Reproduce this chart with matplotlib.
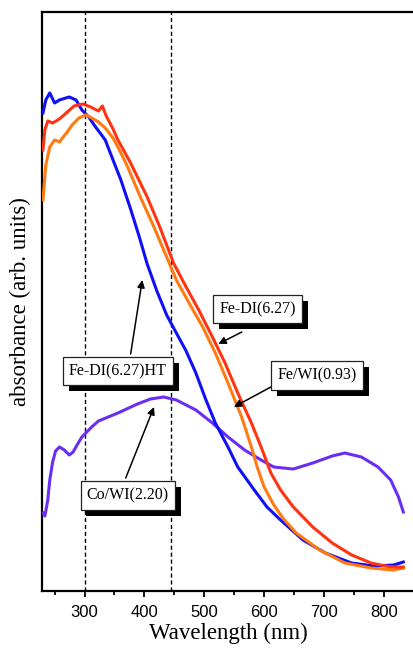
import numpy as np
import matplotlib
matplotlib.use("Agg")
import matplotlib.pyplot as plt
import matplotlib.patheffects as pe

SERIF = "Liberation Serif"
SANS = "Liberation Sans"

# --- spectra (wavelength nm, absorbance arb. units) ---
blue_nm = [230.6, 235.4, 242.0, 250.1, 258.2, 274.5, 285.9, 295.6, 307.0, 318.4, 326.0, 334.6,
           347.6, 360.7, 376.9, 391.5, 404.6, 420.8, 437.1, 453.3, 469.6, 485.9, 502.1, 518.4,
           539.5, 555.8, 583.4, 604.6, 627.3, 664.7, 702.1, 746.0, 783.4, 815.9, 832.2]
blue_a = [4.78, 4.91, 4.98, 4.88, 4.91, 4.94, 4.91, 4.81, 4.74, 4.64, 4.58, 4.51,
          4.31, 4.11, 3.82, 3.54, 3.27, 3.00, 2.76, 2.58, 2.40, 2.18, 1.92, 1.68,
          1.44, 1.24, 1.01, 0.84, 0.71, 0.51, 0.38, 0.28, 0.25, 0.26, 0.29]

red_nm = [230.6, 233.8, 238.7, 246.8, 258.2, 269.6, 282.6, 297.2, 310.2, 323.3, 329.8, 336.3,
          347.6, 355.8, 376.9, 404.6, 425.7, 448.5, 469.6, 490.7, 513.5, 534.6, 555.8, 578.6,
          594.8, 611.1, 627.3, 648.5, 681.0, 713.5, 746.0, 778.5, 811.1, 832.2]
red_a = [4.41, 4.61, 4.70, 4.68, 4.72, 4.78, 4.85, 4.87, 4.84, 4.80, 4.85, 4.75,
         4.62, 4.51, 4.28, 3.94, 3.64, 3.28, 3.04, 2.81, 2.54, 2.28, 1.98, 1.68,
         1.44, 1.18, 1.01, 0.84, 0.64, 0.48, 0.36, 0.28, 0.24, 0.24]

orange_nm = [230.6, 235.4, 242.0, 250.1, 258.2, 263.1, 271.2, 279.3, 290.7, 302.1, 311.9, 323.3,
             334.6, 347.6, 360.0, 372.0, 393.2, 415.9, 437.1, 453.3, 474.5, 497.3, 518.4, 539.5,
             562.3, 578.6, 588.3, 599.8, 616.0, 632.3, 653.4, 692.4, 734.6, 778.5, 815.9, 832.2]
orange_a = [3.91, 4.26, 4.44, 4.51, 4.49, 4.53, 4.59, 4.66, 4.73, 4.76, 4.73, 4.69,
            4.63, 4.53, 4.39, 4.24, 3.94, 3.64, 3.34, 3.11, 2.88, 2.64, 2.38, 2.08,
            1.74, 1.44, 1.24, 1.04, 0.86, 0.72, 0.58, 0.41, 0.28, 0.23, 0.21, 0.23]

purple_nm = [230.6, 233.8, 238.7, 242.0, 246.8, 251.7, 258.2, 266.3, 274.5, 281.0, 287.5, 295.6,
             311.9, 323.3, 355.8, 388.3, 410.0, 432.2, 453.3, 485.9, 513.5, 539.5, 567.2, 594.8,
             616.0, 648.5, 681.0, 713.5, 734.6, 762.3, 789.9, 811.1, 824.1, 832.2]
purple_a = [0.78, 0.75, 0.91, 1.11, 1.29, 1.40, 1.44, 1.41, 1.36, 1.39, 1.46, 1.54,
            1.64, 1.70, 1.78, 1.87, 1.92, 1.94, 1.91, 1.81, 1.68, 1.54, 1.41, 1.31,
            1.24, 1.22, 1.28, 1.35, 1.38, 1.34, 1.24, 1.11, 0.94, 0.79]

marker_lines = [300, 445]
xticks = [300, 400, 500, 600, 700, 800]

# label text, box centre, arrow tail, arrow tip
labels = ["Fe-DI(6.27)", "Fe-DI(6.27)HT", "Fe/WI(0.93)", "Co/WI(2.20)"]
label_xy = [(589.0, 2.82), (355.8, 2.20), (688.0, 2.155), (372.0, 0.955)]
arrow_from = [(562.6, 2.59), (377.0, 2.37), (611.1, 2.04), (368.8, 1.13)]
arrow_to = [(523.3, 2.47), (396.4, 3.11), (549.3, 1.84), (416.0, 1.84)]

fig = plt.figure(figsize=(4.14, 6.54), dpi=100)
ax = fig.add_axes([0.1014, 0.0963, 0.8986, 0.8854])

ax.plot(purple_nm, purple_a, color="#6A2EF2", lw=2.2, zorder=3)
ax.plot(blue_nm, blue_a, color="#1010F5", lw=2.2, zorder=4)
ax.plot(orange_nm, orange_a, color="#FF7A12", lw=2.2, zorder=4)
ax.plot(red_nm, red_a, color="#FF3410", lw=2.2, zorder=5)

for xv in marker_lines:
    ax.axvline(xv, ymin=0, ymax=1.005, color="k", lw=1.0, ls=(0, (3, 2)), clip_on=False, zorder=2)

for txt, xy, p0, p1 in zip(labels, label_xy, arrow_from, arrow_to):
    ax.annotate("", xy=p1, xytext=p0,
                arrowprops=dict(arrowstyle="-|>", color="k", lw=1.1, mutation_scale=11,
                                shrinkA=0, shrinkB=0), zorder=6)
    t = ax.text(*xy, txt, ha="center", va="center", fontsize=11.5, family=SERIF, zorder=7,
                bbox=dict(boxstyle="square,pad=0.38", fc="white", ec="#222222", lw=0.9))
    t.get_bbox_patch().set_path_effects([pe.withSimplePatchShadow(offset=(4.3, -4.3),
                                         shadow_rgbFace="k", alpha=1.0)])

ax.set_xlim(229, 833.6)
ax.set_ylim(0, 5.79)
ax.set_xticks(xticks)
ax.set_xticks([250, 350, 450, 550, 650, 750, 850], minor=True)
ax.set_yticks([])
ax.spines["right"].set_visible(False)
for s in ("left", "bottom", "top"):
    ax.spines[s].set_linewidth(1.6)
ax.tick_params(axis="x", which="major", direction="out", length=4, width=1.3,
               labelsize=12, pad=6)
ax.tick_params(axis="x", which="minor", direction="out", length=3, width=1.3)
for lab in ax.get_xticklabels():
    lab.set_family(SANS)

ax.set_xlabel("Wavelength (nm)", family=SERIF, fontsize=16.5, labelpad=2)
ax.set_ylabel("absorbance (arb. units)", family=SERIF, fontsize=16.5, labelpad=8)

fig.savefig("out.png", dpi=100)
